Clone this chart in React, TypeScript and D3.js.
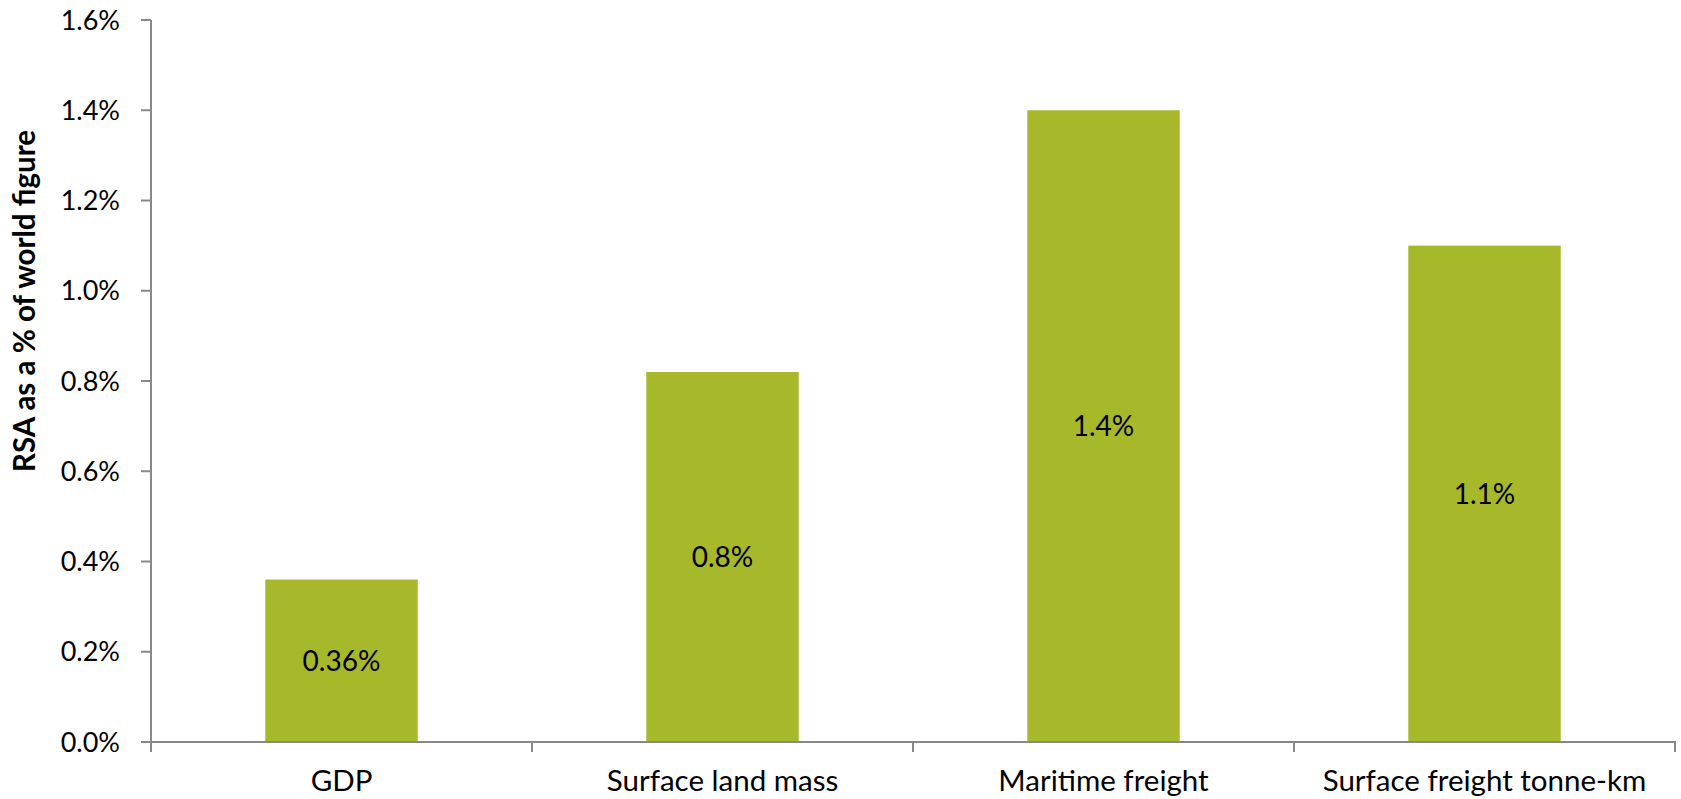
import React from "react";
import * as d3 from "d3";

// Share of world totals for the RSA, in percent
const categories = ["GDP", "Surface land mass", "Maritime freight", "Surface freight tonne-km"];
const values = [0.36, 0.82, 1.4, 1.1];
const labelDecimals = [2, 1, 1, 1];
const yTicks = [0, 0.2, 0.4, 0.6, 0.8, 1.0, 1.2, 1.4, 1.6];
const yTitle = "RSA as a % of world figure";

const W = 1681;
const H = 799;
const FONT = "Lato, 'Open Sans', sans-serif";
const FS_TICK = 27;
const FS_VALUE = 28;
const FS_CAT = 29.5;
const FS_TITLE = 29.5;
const AXIS = "#888888";
const BAR = "#a8b82b";

export default function App() {
  const x = d3.scaleBand<string>().domain(categories).range([151, 1675]).padding(0);
  const y = d3.scaleLinear().domain([0, 1.6]).range([742, 20]);
  const bw = x.bandwidth();
  const barW = bw * 0.4;

  return (
    <svg
      width={W}
      height={H}
      style={{ position: "absolute", left: 0, top: 0, display: "block", background: "#fff" }}
      fontFamily={FONT}
    >
      {/* bars */}
      {categories.map((c, i) => (
        <rect
          key={c}
          x={(x(c) as number) + (bw - barW) / 2}
          y={y(values[i])}
          width={barW}
          height={y(0) - y(values[i])}
          fill={BAR}
        />
      ))}
      {/* value labels, centred inside each bar */}
      {categories.map((c, i) => (
        <text
          key={c + "-lbl"}
          x={(x(c) as number) + bw / 2}
          y={(y(values[i]) + y(0)) / 2 + FS_VALUE * 0.36}
          textAnchor="middle"
          fontSize={FS_VALUE}
          fill="#000"
        >
          {values[i].toFixed(labelDecimals[i]) + "%"}
        </text>
      ))}
      {/* y axis */}
      <line x1={151} x2={151} y1={y(1.6)} y2={y(0)} stroke={AXIS} strokeWidth={2} />
      {yTicks.map((t) => (
        <g key={t}>
          <line x1={141} x2={151} y1={y(t)} y2={y(t)} stroke={AXIS} strokeWidth={2} />
          <text x={120} y={y(t) + FS_TICK * 0.36} textAnchor="end" fontSize={FS_TICK} fill="#000">
            {t.toFixed(1) + "%"}
          </text>
        </g>
      ))}
      {/* x axis */}
      <line x1={150} x2={1676} y1={y(0)} y2={y(0)} stroke={AXIS} strokeWidth={2} />
      {categories.map((c) => (
        <line
          key={c + "-tick"}
          x1={x(c) as number}
          x2={x(c) as number}
          y1={y(0)}
          y2={y(0) + 10}
          stroke={AXIS}
          strokeWidth={2}
        />
      ))}
      <line x1={1675} x2={1675} y1={y(0)} y2={y(0) + 10} stroke={AXIS} strokeWidth={2} />
      {categories.map((c) => (
        <text
          key={c + "-cat"}
          x={(x(c) as number) + bw / 2}
          y={791}
          textAnchor="middle"
          fontSize={FS_CAT}
          fill="#000"
        >
          {c}
        </text>
      ))}
      {/* y axis title */}
      <text
        transform={`translate(35,301) rotate(-90)`}
        textAnchor="middle"
        fontSize={FS_TITLE}
        fontWeight="bold"
        fill="#000"
      >
        {yTitle}
      </text>
    </svg>
  );
}
